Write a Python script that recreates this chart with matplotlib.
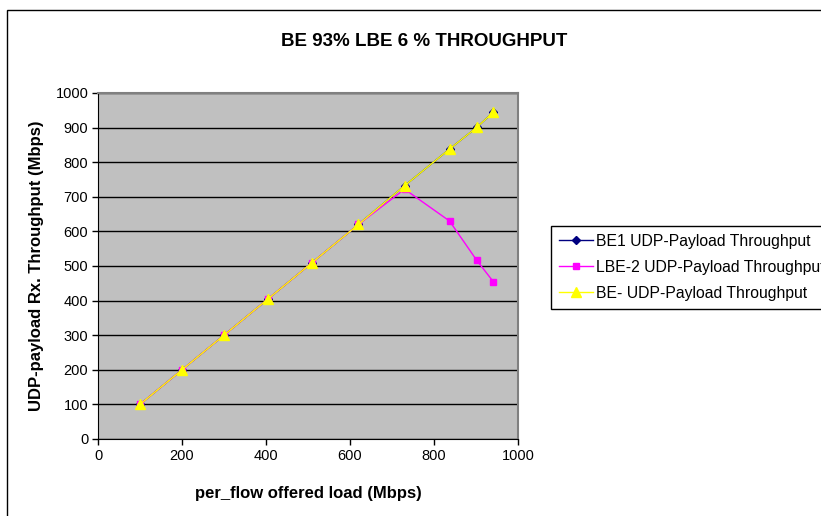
import matplotlib.pyplot as plt
from matplotlib.patches import Rectangle

plt.rcParams['font.family'] = ['Liberation Sans', 'DejaVu Sans']

# Offered load per flow (Mbps)
offered_load = [100, 200, 300, 404, 510, 620, 730, 837, 902, 941]

# Received UDP payload throughput (Mbps)
be1_throughput = [100, 200, 300, 404, 510, 620, 732, 838, 901, 944]
lbe2_throughput = [100, 200, 300, 404, 510, 620, 722, 630, 516, 455]
be_throughput = [100, 200, 300, 404, 510, 620, 732, 838, 901, 944]

fig = plt.figure(figsize=(8.21, 5.16), dpi=100)
ax = fig.add_axes([98 / 821, 1 - 439 / 516, 420 / 821, 346 / 516])
ax.set_facecolor('#C0C0C0')

ax.plot(offered_load, be1_throughput, color='#000080', marker='D', markersize=4.5,
        lw=1, label='BE1 UDP-Payload Throughput')
ax.plot(offered_load, lbe2_throughput, color='#FF00FF', marker='s', markersize=5,
        lw=1, label='LBE-2 UDP-Payload Throughput')
ax.plot(offered_load, be_throughput, color='#FFFF00', marker='^', markersize=6.5,
        lw=1, label='BE- UDP-Payload Throughput')

ax.set_xlim(0, 1000)
ax.set_ylim(0, 1000)
ax.set_xticks(range(0, 1001, 200))
ax.set_yticks(range(0, 1001, 100))
ax.yaxis.grid(True, color='black', lw=1)
ax.set_axisbelow(True)
ax.tick_params(direction='out', length=4, width=1, labelsize=10.5, pad=3)

for side in ['top', 'right']:
    ax.spines[side].set_color('#808080')
    ax.spines[side].set_linewidth(1.5)

ax.set_xlabel('per_flow offered load (Mbps)', fontsize=12, fontweight='bold', labelpad=17)
ax.set_ylabel('UDP-payload Rx. Throughput (Mbps)', fontsize=12, fontweight='bold', labelpad=8)

fig.text(424 / 821, 1 - 41 / 516, 'BE 93% LBE 6 % THROUGHPUT', ha='center', va='center',
         fontsize=13.5, fontweight='bold')

leg = fig.legend(loc='upper left', bbox_to_anchor=(551 / 821, 1 - 226 / 516), fontsize=11.3,
                 fancybox=False, edgecolor='black', framealpha=1, borderaxespad=0,
                 handlelength=2.2, handletextpad=0.15, labelspacing=0.7, borderpad=0.5)
leg.get_frame().set_linewidth(1)

# chart border
fig.patches.append(Rectangle((7 / 821, -0.1), 2, 1 - 10 / 516 + 0.1, transform=fig.transFigure,
                             fill=False, edgecolor='black', lw=1))

fig.savefig('out.png', dpi=100)
